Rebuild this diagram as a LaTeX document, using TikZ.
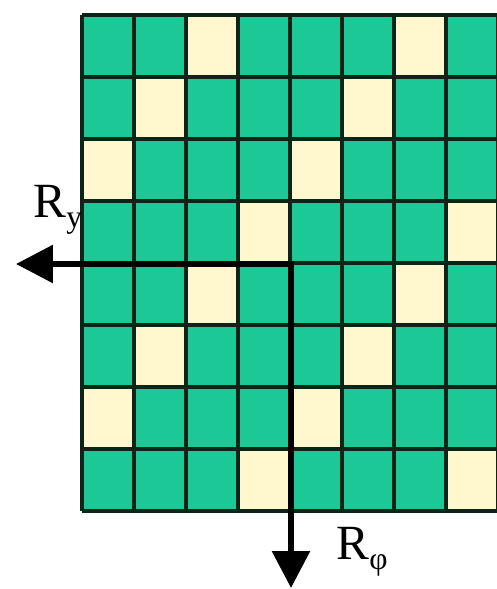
\documentclass[tikz,border=0pt]{standalone}
\usepackage{fontspec}
\setmainfont{Liberation Serif}
\usepackage{xcolor}
\usetikzlibrary{arrows.meta,calc,positioning}

\definecolor{cellgreen}{HTML}{1CC996}
\definecolor{cellcream}{HTML}{FFF8CF}
\definecolor{gridline}{HTML}{0B2418}

\newcommand{\lowsub}[1]{\raisebox{-0.45ex}{\fontsize{18}{20}\selectfont #1}}

\begin{document}
\begin{tikzpicture}[x=0.02cm, y=-0.02cm, arrow/.style = {line width=3.4pt,-{Triangle[length=21pt,width=21pt]}}]
		\tikzset{lbl/.style={inner sep=0pt,font=\fontsize{28}{30}\selectfont}}
		\useasboundingbox (0,0) rectangle (497,589);

		% Cells
		\foreach \r in {0,...,7}{
			\foreach \c in {0,...,7}{
				\pgfmathtruncatemacro{\k}{mod(\r+\c,4)}
				\ifnum\k=2
					\fill[cellcream] (82+52*\c,15+62*\r) rectangle ++(52,62);
				\else
					\fill[cellgreen] (82+52*\c,15+62*\r) rectangle ++(52,62);
				\fi
			}
		}

		% Grid
		\foreach \c in {0,...,8}
			\draw[gridline, line width=2.8pt] (82+52*\c,15) -- (82+52*\c,511);
		\foreach \r in {0,...,8}
			\draw[gridline, line width=2.8pt] (82,15+62*\r) -- (498,15+62*\r);

		% Axes
		\coordinate (origin) at (291,264);
		\coordinate (ryend) at (16,264);
		\coordinate (rphiend) at (291,588);

		\draw [arrow] (origin) -- (ryend);
		\draw [arrow, line cap=rect] (origin) -- (rphiend);

		% Labels
		\node[lbl] (ry) at (58,210) {R\lowsub{y}};
		\node[lbl] (rphi) at (362,552) {R\lowsub{φ}};

	\end{tikzpicture}
\end{document}
